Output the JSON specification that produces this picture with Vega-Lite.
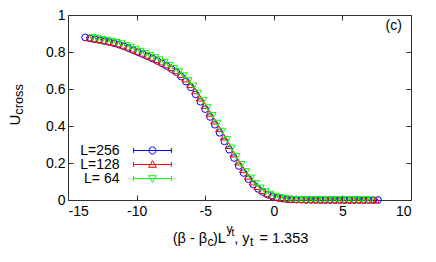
{
  "$schema": "https://vega.github.io/schema/vega-lite/v6.json",
  "width": 343,
  "height": 185,
  "autosize": {"type": "none"},
  "padding": {"left": 68, "top": 15, "right": 25, "bottom": 62},
  "background": "white",
  "config": {
    "view": {"stroke": "#333333", "strokeWidth": 1},
    "font": "Liberation Sans",
    "axis": {"domain": false, "grid": false, "tickColor": "#333333", "tickSize": -5, "labelFontSize": 14, "labelColor": "black", "labelFont": "Liberation Sans"}
  },
  "datasets": {
    "pts": [
      {"L":"L=256","x":-13.75,"y":0.879},{"L":"L=256","x":-13.4,"y":0.874},{"L":"L=256","x":-13.05,"y":0.869},{"L":"L=256","x":-12.7,"y":0.864},{"L":"L=256","x":-12.35,"y":0.859},{"L":"L=256","x":-12.0,"y":0.854},{"L":"L=256","x":-11.65,"y":0.848},{"L":"L=256","x":-11.3,"y":0.840},{"L":"L=256","x":-10.95,"y":0.831},{"L":"L=256","x":-10.6,"y":0.821},{"L":"L=256","x":-10.25,"y":0.810},{"L":"L=256","x":-9.9,"y":0.799},{"L":"L=256","x":-9.55,"y":0.788},{"L":"L=256","x":-9.2,"y":0.777},{"L":"L=256","x":-8.85,"y":0.765},{"L":"L=256","x":-8.5,"y":0.752},{"L":"L=256","x":-8.15,"y":0.739},{"L":"L=256","x":-7.8,"y":0.724},{"L":"L=256","x":-7.45,"y":0.708},{"L":"L=256","x":-7.1,"y":0.691},{"L":"L=256","x":-6.75,"y":0.667},{"L":"L=256","x":-6.4,"y":0.640},{"L":"L=256","x":-6.05,"y":0.609},{"L":"L=256","x":-5.7,"y":0.571},{"L":"L=256","x":-5.35,"y":0.531},{"L":"L=256","x":-5.0,"y":0.491},{"L":"L=256","x":-4.65,"y":0.449},{"L":"L=256","x":-4.3,"y":0.407},{"L":"L=256","x":-3.95,"y":0.363},{"L":"L=256","x":-3.6,"y":0.317},{"L":"L=256","x":-3.25,"y":0.272},{"L":"L=256","x":-2.9,"y":0.227},{"L":"L=256","x":-2.55,"y":0.184},{"L":"L=256","x":-2.2,"y":0.146},{"L":"L=256","x":-1.85,"y":0.113},{"L":"L=256","x":-1.5,"y":0.084},{"L":"L=256","x":-1.15,"y":0.060},{"L":"L=256","x":-0.8,"y":0.043},{"L":"L=256","x":-0.45,"y":0.029},{"L":"L=256","x":-0.1,"y":0.019},{"L":"L=256","x":0.25,"y":0.012},{"L":"L=256","x":0.6,"y":0.008},{"L":"L=256","x":0.95,"y":0.005},{"L":"L=256","x":1.3,"y":0.003},{"L":"L=256","x":1.65,"y":0.002},{"L":"L=256","x":2.0,"y":0.002},{"L":"L=256","x":2.35,"y":0.001},{"L":"L=256","x":2.7,"y":0.001},{"L":"L=256","x":3.05,"y":0.001},{"L":"L=256","x":3.4,"y":0},{"L":"L=256","x":3.75,"y":0},{"L":"L=256","x":4.1,"y":0},{"L":"L=256","x":4.45,"y":0},{"L":"L=256","x":4.8,"y":0},{"L":"L=256","x":5.15,"y":0},{"L":"L=256","x":5.5,"y":0},{"L":"L=256","x":5.85,"y":0},{"L":"L=256","x":6.2,"y":0},{"L":"L=256","x":6.55,"y":0},{"L":"L=256","x":6.9,"y":0},{"L":"L=256","x":7.25,"y":0},{"L":"L=256","x":7.6,"y":0},
      {"L":"L=128","x":-13.45,"y":0.876},{"L":"L=128","x":-13.1,"y":0.871},{"L":"L=128","x":-12.75,"y":0.867},{"L":"L=128","x":-12.4,"y":0.862},{"L":"L=128","x":-12.05,"y":0.857},{"L":"L=128","x":-11.7,"y":0.851},{"L":"L=128","x":-11.35,"y":0.844},{"L":"L=128","x":-11.0,"y":0.836},{"L":"L=128","x":-10.65,"y":0.826},{"L":"L=128","x":-10.3,"y":0.815},{"L":"L=128","x":-9.95,"y":0.804},{"L":"L=128","x":-9.6,"y":0.793},{"L":"L=128","x":-9.25,"y":0.782},{"L":"L=128","x":-8.9,"y":0.771},{"L":"L=128","x":-8.55,"y":0.759},{"L":"L=128","x":-8.2,"y":0.746},{"L":"L=128","x":-7.85,"y":0.731},{"L":"L=128","x":-7.5,"y":0.716},{"L":"L=128","x":-7.15,"y":0.699},{"L":"L=128","x":-6.8,"y":0.678},{"L":"L=128","x":-6.45,"y":0.654},{"L":"L=128","x":-6.1,"y":0.624},{"L":"L=128","x":-5.75,"y":0.590},{"L":"L=128","x":-5.4,"y":0.551},{"L":"L=128","x":-5.05,"y":0.511},{"L":"L=128","x":-4.7,"y":0.469},{"L":"L=128","x":-4.35,"y":0.427},{"L":"L=128","x":-4.0,"y":0.385},{"L":"L=128","x":-3.65,"y":0.340},{"L":"L=128","x":-3.3,"y":0.294},{"L":"L=128","x":-2.95,"y":0.249},{"L":"L=128","x":-2.6,"y":0.205},{"L":"L=128","x":-2.25,"y":0.165},{"L":"L=128","x":-1.9,"y":0.128},{"L":"L=128","x":-1.55,"y":0.097},{"L":"L=128","x":-1.2,"y":0.072},{"L":"L=128","x":-0.85,"y":0.051},{"L":"L=128","x":-0.5,"y":0.034},{"L":"L=128","x":-0.15,"y":0.024},{"L":"L=128","x":0.2,"y":0.015},{"L":"L=128","x":0.55,"y":0.009},{"L":"L=128","x":0.9,"y":0.006},{"L":"L=128","x":1.25,"y":0.004},{"L":"L=128","x":1.6,"y":0.003},{"L":"L=128","x":1.95,"y":0.002},{"L":"L=128","x":2.3,"y":0.001},{"L":"L=128","x":2.65,"y":0.001},{"L":"L=128","x":3.0,"y":0.001},{"L":"L=128","x":3.35,"y":0},{"L":"L=128","x":3.7,"y":0},{"L":"L=128","x":4.05,"y":0},{"L":"L=128","x":4.4,"y":0},{"L":"L=128","x":4.75,"y":0},{"L":"L=128","x":5.1,"y":0},{"L":"L=128","x":5.45,"y":0},{"L":"L=128","x":5.8,"y":0},{"L":"L=128","x":6.15,"y":0},{"L":"L=128","x":6.5,"y":0},{"L":"L=128","x":6.85,"y":0},{"L":"L=128","x":7.2,"y":0},{"L":"L=128","x":7.45,"y":0},
      {"L":"L= 64","x":-13.2,"y":0.878},{"L":"L= 64","x":-12.85,"y":0.873},{"L":"L= 64","x":-12.5,"y":0.868},{"L":"L= 64","x":-12.15,"y":0.863},{"L":"L= 64","x":-11.8,"y":0.858},{"L":"L= 64","x":-11.45,"y":0.852},{"L":"L= 64","x":-11.1,"y":0.845},{"L":"L= 64","x":-10.75,"y":0.836},{"L":"L= 64","x":-10.4,"y":0.826},{"L":"L= 64","x":-10.05,"y":0.815},{"L":"L= 64","x":-9.7,"y":0.804},{"L":"L= 64","x":-9.35,"y":0.793},{"L":"L= 64","x":-9.0,"y":0.782},{"L":"L= 64","x":-8.65,"y":0.770},{"L":"L= 64","x":-8.3,"y":0.758},{"L":"L= 64","x":-7.95,"y":0.744},{"L":"L= 64","x":-7.6,"y":0.728},{"L":"L= 64","x":-7.25,"y":0.711},{"L":"L= 64","x":-6.9,"y":0.694},{"L":"L= 64","x":-6.55,"y":0.672},{"L":"L= 64","x":-6.2,"y":0.645},{"L":"L= 64","x":-5.85,"y":0.616},{"L":"L= 64","x":-5.5,"y":0.579},{"L":"L= 64","x":-5.15,"y":0.539},{"L":"L= 64","x":-4.8,"y":0.499},{"L":"L= 64","x":-4.45,"y":0.457},{"L":"L= 64","x":-4.1,"y":0.415},{"L":"L= 64","x":-3.75,"y":0.372},{"L":"L= 64","x":-3.4,"y":0.327},{"L":"L= 64","x":-3.05,"y":0.281},{"L":"L= 64","x":-2.7,"y":0.236},{"L":"L= 64","x":-2.35,"y":0.192},{"L":"L= 64","x":-2.0,"y":0.154},{"L":"L= 64","x":-1.65,"y":0.119},{"L":"L= 64","x":-1.3,"y":0.089},{"L":"L= 64","x":-0.95,"y":0.065},{"L":"L= 64","x":-0.6,"y":0.046},{"L":"L= 64","x":-0.25,"y":0.031},{"L":"L= 64","x":0.1,"y":0.021},{"L":"L= 64","x":0.45,"y":0.014},{"L":"L= 64","x":0.8,"y":0.009},{"L":"L= 64","x":1.15,"y":0.006},{"L":"L= 64","x":1.5,"y":0.004},{"L":"L= 64","x":1.85,"y":0.003},{"L":"L= 64","x":2.2,"y":0.002},{"L":"L= 64","x":2.55,"y":0.002},{"L":"L= 64","x":2.9,"y":0.002},{"L":"L= 64","x":3.25,"y":0.002},{"L":"L= 64","x":3.6,"y":0.002},{"L":"L= 64","x":3.95,"y":0.002},{"L":"L= 64","x":4.3,"y":0.002},{"L":"L= 64","x":4.65,"y":0.002},{"L":"L= 64","x":5.0,"y":0.002},{"L":"L= 64","x":5.35,"y":0.002},{"L":"L= 64","x":5.7,"y":0.002},{"L":"L= 64","x":6.05,"y":0.002},{"L":"L= 64","x":6.4,"y":0.002},{"L":"L= 64","x":6.75,"y":0.002},{"L":"L= 64","x":7.1,"y":0.002}
    ]
  },
  "layer": [
    {
      "data": {"name": "pts"},
      "mark": {"type": "point", "filled": false, "strokeWidth": 1, "size": 45, "opacity": 1},
      "encoding": {
        "x": {"field": "x", "type": "quantitative", "scale": {"domain": [-15, 10], "nice": false, "zero": false},
              "axis": {"values": [-15, -10, -5, 0, 5, 10], "labelPadding": 9, "title": null, "labelExpr": "replace(datum.label, '\u2212', '-')"}},
        "y": {"field": "y", "type": "quantitative", "scale": {"domain": [0, 1], "nice": false, "zero": false},
              "axis": {"values": [0, 0.2, 0.4, 0.6, 0.8, 1], "format": "~g", "labelPadding": 8, "title": null}},
        "color": {"field": "L", "type": "nominal", "scale": {"domain": ["L=256", "L=128", "L= 64"], "range": ["#0000ff", "#ff0000", "#00ff00"]}, "legend": null},
        "shape": {"field": "L", "type": "nominal", "scale": {"domain": ["L=256", "L=128", "L= 64"], "range": ["circle", "triangle-up", "triangle-down"]}, "legend": null}
      }
    },
    {
      "data": {"name": "pts"},
      "mark": {"type": "point", "filled": false, "strokeWidth": 1, "opacity": 0},
      "encoding": {
        "x": {"field": "x", "type": "quantitative", "scale": {"domain": [-15, 10], "nice": false, "zero": false},
              "axis": {"orient": "top", "values": [-15, -10, -5, 0, 5, 10], "labels": false, "title": null}},
        "y": {"field": "y", "type": "quantitative", "scale": {"domain": [0, 1], "nice": false, "zero": false},
              "axis": {"orient": "right", "values": [0, 0.2, 0.4, 0.6, 0.8, 1], "labels": false, "title": null}},
        "color": {"field": "L", "type": "nominal", "scale": {"domain": ["L=256", "L=128", "L= 64"], "range": ["#0000ff", "#ff0000", "#00ff00"]},
                  "legend": {"orient": "none", "legendX": 77.5, "legendY": 128.5, "title": null, "symbolSize": 49, "symbolStrokeWidth": 1, "symbolOpacity": 1, "labelFontSize": 14, "labelFont": "Liberation Sans", "labelColor": "black", "labelAlign": "right", "labelOffset": -40, "padding": 0, "rowPadding": 0}},
        "shape": {"field": "L", "type": "nominal", "scale": {"domain": ["L=256", "L=128", "L= 64"], "range": [
                    "M-5.4,0H5.4M-5.4,-0.7V0.7M5.4,-0.7V0.7M1,0A1,1,0,1,1,-1,0A1,1,0,1,1,1,0",
                    "M-5.4,0H5.4M-5.4,-0.7V0.7M5.4,-0.7V0.7M0,-1.1L1.1,0.8L-1.1,0.8Z",
                    "M-5.4,0H5.4M-5.4,-0.7V0.7M5.4,-0.7V0.7M0,1.1L1.1,-0.8L-1.1,-0.8Z"]},
                  "legend": {"orient": "none", "legendX": 77.5, "legendY": 128.5, "title": null, "symbolSize": 49, "symbolStrokeWidth": 1, "symbolOpacity": 1, "labelFontSize": 14, "labelFont": "Liberation Sans", "labelColor": "black", "labelAlign": "right", "labelOffset": -40, "padding": 0, "rowPadding": 0}}
      }
    },
    {
      "data": {"values": [{}]},
      "mark": {"type": "text", "text": "(c)", "align": "right", "baseline": "alphabetic", "fontSize": 14, "font": "Liberation Sans", "color": "black"},
      "encoding": {"x": {"datum": 9.34, "type": "quantitative", "scale": {"domain": [-15, 10], "nice": false, "zero": false}, "axis": null},
                   "y": {"datum": 0.92, "type": "quantitative", "scale": {"domain": [0, 1], "nice": false, "zero": false}, "axis": null}}
    },
    {
      "data": {"values": [{"t": "(\u03b2 - \u03b2", "px": -7.369, "py": -0.232, "s": "big"}, {"t": "c", "px": -4.832, "py": -0.246, "s": "small"}, {"t": ")L", "px": -4.431, "py": -0.232, "s": "big"}, {"t": "y", "px": -3.448, "py": -0.181, "s": "small"}, {"t": "t", "px": -3.076, "py": -0.195, "s": "tiny"}, {"t": ", y", "px": -2.879, "py": -0.232, "s": "big"}, {"t": "t", "px": -1.735, "py": -0.251, "s": "small"}, {"t": "= 1.353", "px": -1.042, "py": -0.232, "s": "big"}]},
      "mark": {"type": "text", "align": "left", "baseline": "alphabetic", "font": "Liberation Sans", "color": "black"},
      "encoding": {
        "x": {"field": "px", "type": "quantitative", "scale": {"domain": [-15, 10], "nice": false, "zero": false}, "axis": null},
        "y": {"field": "py", "type": "quantitative", "scale": {"domain": [0, 1], "nice": false, "zero": false}, "axis": null},
        "text": {"field": "t"},
        "size": {"field": "s", "type": "nominal", "scale": {"domain": ["big", "small", "tiny"], "range": [14.5, 10, 8]}, "legend": null}
      }
    },
    {
      "data": {"values": [{"t": "U", "px": -18.499, "py": 0.4027, "s": "big"}, {"t": "cross", "px": -18.316, "py": 0.4611, "s": "small"}]},
      "mark": {"type": "text", "align": "left", "baseline": "alphabetic", "angle": 270, "font": "Liberation Sans", "color": "black"},
      "encoding": {
        "x": {"field": "px", "type": "quantitative", "scale": {"domain": [-15, 10], "nice": false, "zero": false}, "axis": null},
        "y": {"field": "py", "type": "quantitative", "scale": {"domain": [0, 1], "nice": false, "zero": false}, "axis": null},
        "text": {"field": "t"},
        "size": {"field": "s", "type": "nominal", "scale": {"domain": ["big", "small", "tiny"], "range": [15, 10.5, 8]}, "legend": null}
      }
    }
  ],
  "resolve": {"scale": {"shape": "independent", "size": "independent"}, "axis": {"x": "independent", "y": "independent"}, "legend": {"color": "independent", "shape": "independent", "size": "independent"}}
}
